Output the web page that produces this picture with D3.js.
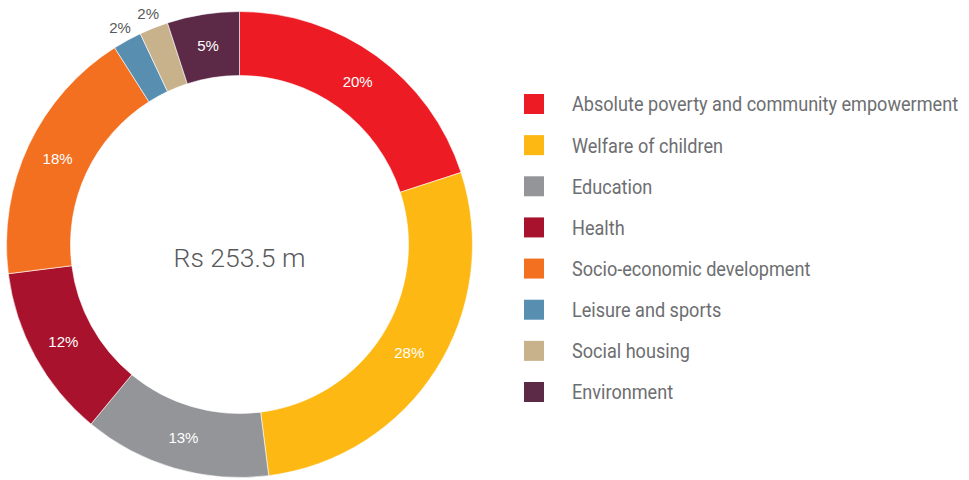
<!DOCTYPE html>
<html>
<head>
<meta charset="utf-8">
<script src="https://cdn.jsdelivr.net/npm/d3@7"></script>
<style>
  html, body { margin: 0; padding: 0; background: #ffffff; }
  svg { display: block; }
</style>
</head>
<body>
<svg id="chart" width="969" height="480"></svg>
<script>
// Allocation of spending by category (share of total, %)
const categories = [
  "Absolute poverty and community empowerment",
  "Welfare of children",
  "Education",
  "Health",
  "Socio-economic development",
  "Leisure and sports",
  "Social housing",
  "Environment"
];
const shares = [20, 28, 13, 12, 18, 2, 2, 5];
const colors = ["#ed1c24", "#fdb813", "#939598", "#a8122d", "#f37021", "#588fb1", "#c8b28b", "#5c2a47"];
const totalLabel = "Rs 253.5 m";

const data = categories.map((name, i) => ({ name, value: shares[i], color: colors[i] }));

const svg = d3.select("#chart");
const cx = 239.5, cy = 244.5;
const outerR = 233, innerR = 169;
const legendFont = "Roboto, 'Liberation Sans', sans-serif";
const labelFont = "'Liberation Sans', Arial, sans-serif";
const legendSquash = 0.862;   // narrow the legend lettering horizontally

const pie = d3.pie().value(d => d.value).sort(null);
const arc = d3.arc().innerRadius(innerR).outerRadius(outerR);
const labelArc = d3.arc().innerRadius(201).outerRadius(201);
const outsideArc = d3.arc().innerRadius(248).outerRadius(248);

const g = svg.append("g").attr("transform", `translate(${cx},${cy})`);
const arcs = pie(data);

g.selectAll("path.slice")
  .data(arcs)
  .join("path")
  .attr("class", "slice")
  .attr("d", arc)
  .attr("fill", d => d.data.color)
  .attr("stroke", "#ffffff")
  .attr("stroke-width", 0.6);

// Percentage labels: inside the ring for wide slices, outside for narrow ones
g.selectAll("text.pct")
  .data(arcs)
  .join("text")
  .attr("class", "pct")
  .attr("transform", d => {
    const small = d.data.value < 4;
    const p = (small ? outsideArc : labelArc).centroid(d);
    return `translate(${p[0]},${p[1]})`;
  })
  .attr("text-anchor", "middle")
  .attr("dominant-baseline", "central")
  .attr("font-family", labelFont)
  .attr("font-size", 15)
  .attr("fill", d => d.data.value < 4 ? "#58595b" : "#ffffff")
  .text(d => d.data.value + "%");

// Total in the middle of the donut
svg.append("text")
  .attr("x", cx)
  .attr("y", 267)
  .attr("text-anchor", "middle")
  .attr("font-family", "Roboto, 'Open Sans', sans-serif")
  .attr("font-weight", 300)
  .attr("font-size", 26.5)
  .attr("fill", "#58595b")
  .text(totalLabel);

// Legend
const legendY = d3.scalePoint().domain(categories).range([104, 392]);
const legend = svg.append("g");
const rows = legend.selectAll("g.row")
  .data(data)
  .join("g")
  .attr("class", "row")
  .attr("transform", d => `translate(0,${legendY(d.name)})`);

rows.append("rect")
  .attr("x", 524).attr("y", -10)
  .attr("width", 20).attr("height", 20)
  .attr("fill", d => d.color);

rows.append("text")
  .attr("transform", `translate(572,0) scale(${legendSquash},1)`)
  .attr("dy", "0.35em")
  .attr("font-family", legendFont)
  .attr("font-size", 21)
  .attr("fill", "#6d6e71")
  .text(d => d.name);
</script>
</body>
</html>
